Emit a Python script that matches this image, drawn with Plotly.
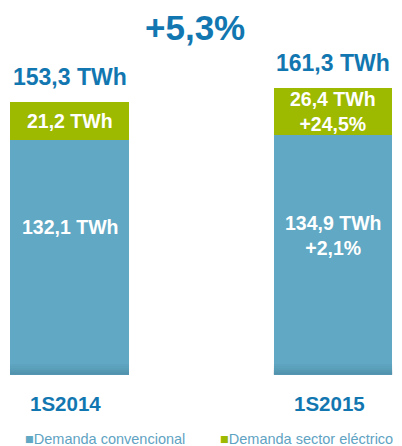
import plotly.graph_objects as go

# ---- data ----
categories = ["1S2014", "1S2015"]
conventional = [132.1, 134.9]
electric = [21.2, 26.4]
totals = [153.3, 161.3]
conv_labels = ["132,1 TWh", "134,9 TWh<br>+2,1%"]
elec_labels = ["21,2 TWh", "26,4 TWh<br>+24,5%"]
total_labels = ["153,3 TWh", "161,3 TWh"]
growth_label = "+5,3%"
series_names = ["Demanda convencional", "Demanda sector eléctrico"]

BLUE = "#60A8C4"
GREEN = "#9DB900"
DARK = "#1277B0"
LEG = "#5FA3C3"
FONT = "Liberation Sans, Arial, sans-serif"

xpos = list(range(len(categories)))
BW = 0.4516

fig = go.Figure()
fig.add_trace(go.Bar(x=xpos, y=conventional, name=series_names[0], marker_color=BLUE,
                     marker_line_width=0, width=BW, hoverinfo="skip"))
fig.add_trace(go.Bar(x=xpos, y=electric, name=series_names[1], marker_color=GREEN,
                     marker_line_width=0, width=BW, hoverinfo="skip"))

ann = []
for i in xpos:
    # total above bar
    ann.append(dict(x=i, y=totals[i], xref="x", yref="y", text=f"<b>{total_labels[i]}</b>",
                    showarrow=False, yanchor="bottom", yshift=10,
                    font=dict(family=FONT, size=23, color=DARK)))
    # electric segment label (centered)
    ann.append(dict(x=i, y=conventional[i] + electric[i] / 2, xref="x", yref="y",
                    text=f"<b>{elec_labels[i]}</b>", showarrow=False, yanchor="middle",
                    font=dict(family=FONT, size=19.5, color="white")))
    # conventional segment label
    ann.append(dict(x=i, y=conventional[i] * 0.685, xref="x", yref="y",
                    text=f"<b>{conv_labels[i]}</b>", showarrow=False, yanchor="top",
                    font=dict(family=FONT, size=19.5, color="white")))
    # category label
    ann.append(dict(x=i - 0.015, y=0, xref="x", yref="y", text=f"<b>{categories[i]}</b>",
                    showarrow=False, yanchor="top", yshift=-15,
                    font=dict(family=FONT, size=20.5, color=DARK)))

# growth headline
ann.append(dict(x=0.486, y=1.0, xref="paper", yref="paper", text=f"<b>{growth_label}</b>",
                showarrow=False, yanchor="top", yshift=-6,
                font=dict(family=FONT, size=35, color=DARK)))

# custom legend
leg_x = [0.058, 0.543]
leg_cols = [BLUE, GREEN]
for k in range(2):
    ann.append(dict(x=leg_x[k], y=0.0, xref="paper", yref="paper",
                    text=f"<span style='color:{leg_cols[k]}'>■</span>{series_names[k]}",
                    showarrow=False, xanchor="left", yanchor="bottom", yshift=-3,
                    font=dict(family=FONT, size=14.5, color=LEG)))

# subtle darkening at the base of the bars
shapes = []
steps = [(0, 1.2, 0.22), (1.2, 2.4, 0.16), (2.4, 3.6, 0.10), (3.6, 4.8, 0.06), (4.8, 6.0, 0.03)]
for i in xpos:
    for y0, y1, op in steps:
        shapes.append(dict(type="rect", xref="x", yref="y", x0=i - BW / 2, x1=i + BW / 2,
                           y0=y0, y1=y1, fillcolor=f"rgba(30,70,90,{op})", line_width=0,
                           layer="above"))

fig.update_layout(
    width=402, height=446,
    margin=dict(l=0, r=0, t=0, b=0),
    barmode="stack",
    showlegend=False,
    plot_bgcolor="white", paper_bgcolor="white",
    xaxis=dict(range=[-0.2638, 1.2619], visible=False, fixedrange=True),
    yaxis=dict(range=[-40.1, 210.7], visible=False, fixedrange=True),
    annotations=ann,
    shapes=shapes,
)

fig.write_html("out.html", config={"displayModeBar": False},
               post_script="document.body.style.margin='0';document.body.style.overflow='hidden';")
